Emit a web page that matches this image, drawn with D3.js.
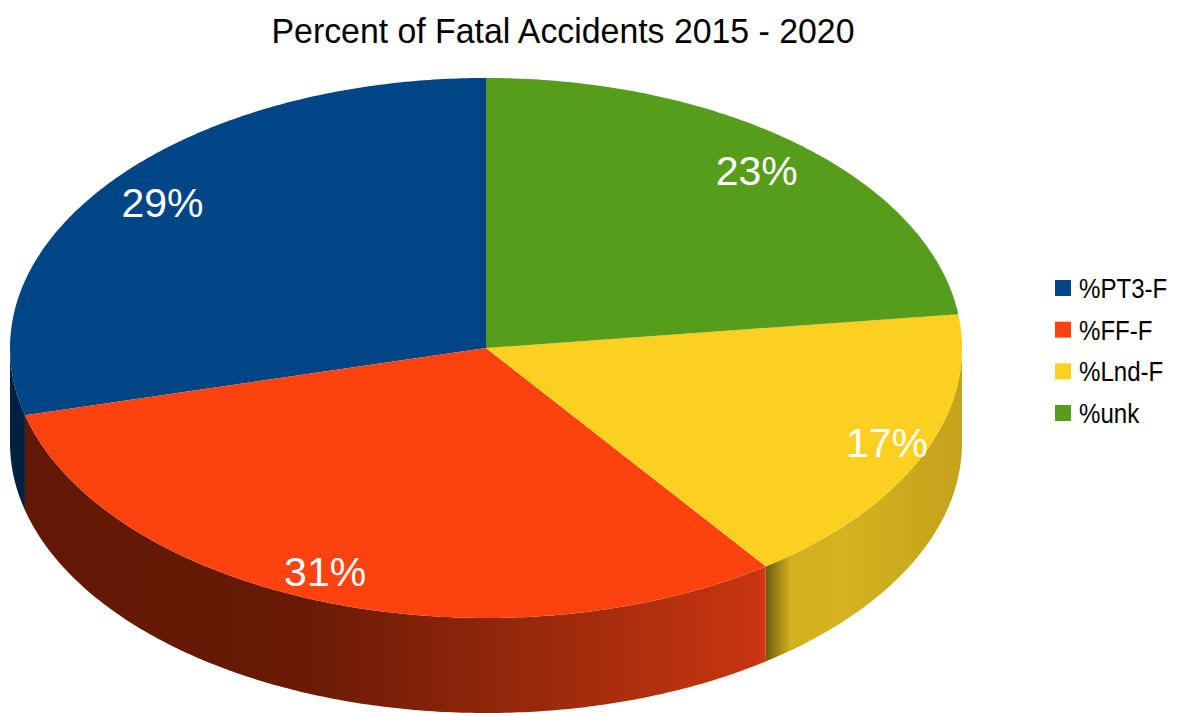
<!DOCTYPE html>
<html>
<head>
<meta charset="utf-8">
<script src="https://cdn.jsdelivr.net/npm/d3@7"></script>
<style>
  html, body { margin: 0; padding: 0; background: #ffffff; }
  svg { display: block; }
</style>
</head>
<body>
<svg id="chart" width="1177" height="713"></svg>
<script>
// ---- data ----
const categories = ["%PT3-F", "%FF-F", "%Lnd-F", "%unk"];
const values = [29, 31, 17, 23];
const labels = ["29%", "31%", "17%", "23%"];
const title = "Percent of Fatal Accidents 2015 - 2020";

// ---- styles ----
const topColors = ["#004586", "#fc430f", "#fcd020", "#579d1c"];
// side gradient stops [offset along x-extent, color]
const sideStops = [
  [[0, "#00213f"], [1, "#00213f"]],
  [[0, "#611805"], [0.30, "#681a06"], [0.57, "#9c2a0c"], [0.785, "#c83510"], [0.795, "#d83c14"]],
  [[0, "#7a6410"], [0.794, "#6e5c0e"], [0.82, "#d2b01e"], [0.88, "#d4b220"], [1, "#c4a21b"]],
  [[0, "#2f5610"], [1, "#2f5610"]]
];
const narrow = 0.86; // emulate a condensed face for the legend

const W = 1177, H = 713;
const cx = 486, cy = 348, rx = 476, ry = 270, depth = 95;

const svg = d3.select("#chart");
const defs = svg.append("defs");

// angle measured from 12 o'clock, counter-clockwise
const pie = d3.pie().sort(null).value(d => d).startAngle(0).endAngle(2 * Math.PI);
const arcs = pie(values);

const px = a => cx - rx * Math.sin(a);
const py = a => cy - ry * Math.cos(a);

sideStops.forEach((stops, i) => {
  const g = defs.append("linearGradient")
    .attr("id", "side" + i)
    .attr("gradientUnits", "userSpaceOnUse")
    .attr("x1", cx - rx).attr("x2", cx + rx)
    .attr("y1", 0).attr("y2", 0);
  stops.forEach(s => g.append("stop").attr("offset", s[0]).attr("stop-color", s[1]));
});

function arcPts(a0, a1, dy) {
  const n = Math.max(2, Math.ceil(Math.abs(a1 - a0) / 0.01));
  return d3.range(n + 1).map(k => {
    const a = a0 + (a1 - a0) * k / n;
    return [px(a), py(a) + dy];
  });
}

const line = d3.line();

// sides (front half only: angles between PI/2 and 3PI/2)
const sides = svg.append("g");
arcs.forEach((d, i) => {
  const a0 = Math.max(d.startAngle, Math.PI / 2);
  const a1 = Math.min(d.endAngle, 3 * Math.PI / 2);
  if (a1 <= a0) return;
  const pts = arcPts(a0, a1, 0).concat(arcPts(a1, a0, depth));
  sides.append("path")
    .attr("d", line(pts) + "Z")
    .attr("fill", "url(#side" + i + ")");
});

// top faces
const tops = svg.append("g");
arcs.forEach((d, i) => {
  const pts = [[cx, cy]].concat(arcPts(d.startAngle, d.endAngle, 0));
  tops.append("path")
    .attr("d", line(pts) + "Z")
    .attr("fill", topColors[i]);
});

// labels (slight perspective magnification toward the viewer)
const fx = 0.86, fy = 0.88, persp = 0.17;
arcs.forEach((d, i) => {
  const m = (d.startAngle + d.endAngle) / 2;
  const s = 1 + persp * Math.max(0, -Math.cos(m));
  svg.append("text")
    .attr("x", cx - rx * fx * s * Math.sin(m))
    .attr("y", cy - ry * fy * Math.cos(m))
    .attr("dy", "0.36em")
    .attr("text-anchor", "middle")
    .attr("font-family", "Liberation Sans, Arial, sans-serif")
    .attr("font-size", 41)
    .attr("fill", "#ffffff")
    .text(labels[i]);
});

// title (slightly condensed via horizontal scale)
svg.append("g")
  .attr("transform", "translate(563,43) scale(0.94,1)")
  .append("text")
  .attr("x", 0)
  .attr("y", 0)
  .attr("text-anchor", "middle")
  .attr("font-family", "Liberation Sans, Arial, sans-serif")
  .attr("font-size", 36)
  .attr("fill", "#000000")
  .text(title);

// legend
const legendY = d3.scalePoint().domain(categories).range([288, 413]);
const legend = svg.append("g");
categories.forEach((c, i) => {
  const y = legendY(c);
  legend.append("rect")
    .attr("x", 1055).attr("y", y - 8)
    .attr("width", 16).attr("height", 16)
    .attr("fill", topColors[i]);
  legend.append("g")
    .attr("transform", `translate(1079,${y}) scale(${narrow},1)`)
    .append("text")
    .attr("x", 0).attr("y", 0)
    .attr("dy", "0.36em")
    .attr("font-family", "Liberation Sans, Arial, sans-serif")
    .attr("font-size", 28)
    .attr("fill", "#000000")
    .text(c);
});
</script>
</body>
</html>
